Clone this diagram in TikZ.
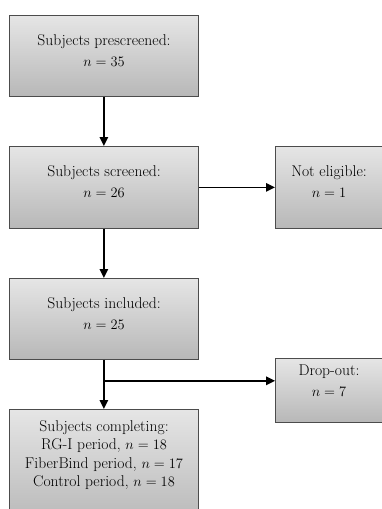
\documentclass[tikz,border=0pt]{standalone}
\usetikzlibrary{arrows.meta,calc}
\begin{document}
\begin{tikzpicture}[x=1pt,y=-1pt,
  box/.style={draw=black!70, line width=0.8pt, top color=black!10, bottom color=black!28, inner sep=0pt, anchor=north west},
  txt/.style={align=center, font=\fontsize{15.6}{21}\selectfont, inner sep=0pt},
  arr/.style={line width=1.5pt, -{Triangle[length=9pt,width=8.5pt]}}]
\useasboundingbox (0,0) rectangle (382,509);
\clip (0,0) rectangle (382,509);
\node[box, minimum width=189pt, minimum height=81pt] (b1) at (9,15) {};
\node[box, minimum width=189pt, minimum height=82pt] (b2) at (9,146) {};
\node[box, minimum width=120pt, minimum height=82pt] (b5) at (275,146) {};
\node[box, minimum width=189pt, minimum height=81pt] (b3) at (9,278) {};
\node[box, minimum width=120pt, minimum height=64pt] (b6) at (275,358) {};
\node[box, minimum width=189pt, minimum height=115pt] (b4) at (9,409) {};
\node[txt] (t1) at (104,51) {Subjects prescreened:\\ $n = 35$};
\node[txt] (t2) at (104,182) {Subjects screened:\\ $n = 26$};
\node[txt] (t5) at (329,182) {Not eligible:\\ $n = 1$};
\node[txt] (t3) at (104,314) {Subjects included:\\ $n = 25$};
\node[txt] (t6) at (329,381) {Drop-out:\\ $n = 7$};
\node[txt, font=\fontsize{15.6}{18.4}\selectfont] (t4) at (104,455) {Subjects completing:\\ RG-I period, $n = 18$\\ FiberBind period, $n = 17$\\ Control period, $n = 18$};
\draw[arr] (b1.south) -- (b2.north);
\draw[arr] (b2.east) -- (b5.west |- b2.east);
\draw[arr] (b2.south) -- (b3.north);
\draw[arr] (b3.south) -- (b4.north);
\coordinate (br) at ($(b3.south)+(0,21)$);
\draw[arr] (br) -- (b6.west |- br);
\end{tikzpicture}
\end{document}
